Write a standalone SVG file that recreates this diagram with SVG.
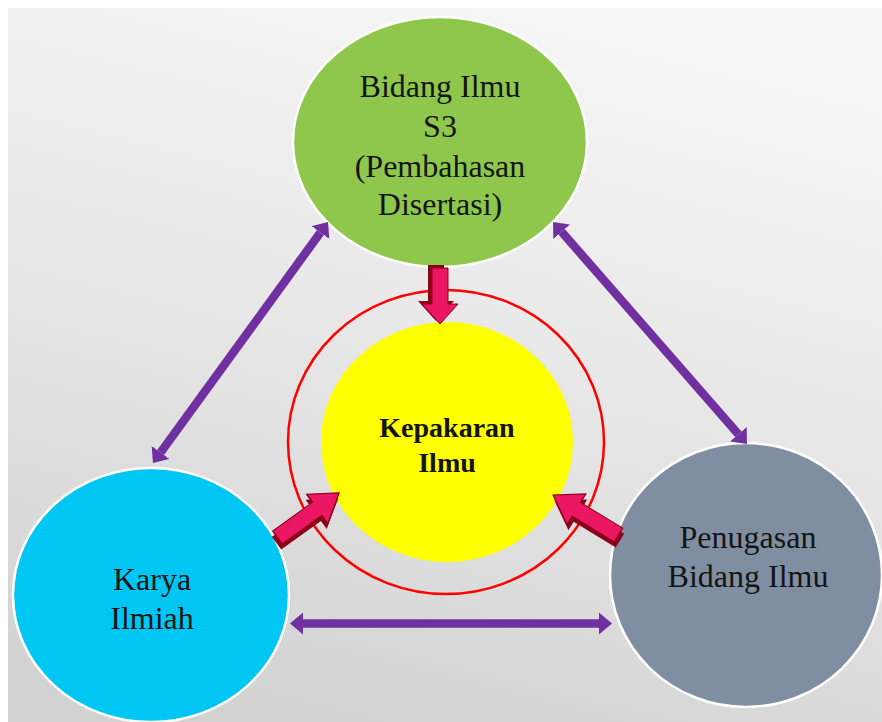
<svg xmlns="http://www.w3.org/2000/svg" width="882" height="722" viewBox="0 0 882 722">
<defs>
<linearGradient id="bg" x1="0.6" y1="0" x2="0.3" y2="1">
<stop offset="0" stop-color="#f6f6f6"/>
<stop offset="0.5" stop-color="#e6e6e6"/>
<stop offset="1" stop-color="#d2d2d2"/>
</linearGradient>
<marker id="ph" markerUnits="userSpaceOnUse" markerWidth="14" markerHeight="22" viewBox="0 0 14 22" refX="0" refY="11" orient="auto-start-reverse">
<path d="M0,0 L13,11 L0,22 Z" fill="#7030a0"/>
</marker>
<path id="blk" d="M0,-8 L36,-8 L36,-18 L56,0 L36,18 L36,8 L0,8 Z"/>
</defs>
<style>
.lbl{font-family:"Liberation Serif","Times New Roman",serif;font-size:32px;fill:#141414;text-anchor:middle}
.bold{font-weight:bold;font-size:28px}
.node{stroke:#ffffff;stroke-width:2.5}
.pl{stroke:#7030a0;stroke-width:8.5;fill:none;marker-start:url(#ph);marker-end:url(#ph)}
.dk{fill:#8c0018}
.pk{fill:#ec1763;stroke:#8c0018;stroke-width:1}
</style>
<rect x="0" y="0" width="882" height="722" fill="#ffffff"/>
<rect x="8" y="8" width="874" height="714" fill="url(#bg)"/>

<g id="ring">
<ellipse cx="446" cy="442" rx="158" ry="152" fill="none" stroke="#ff0000" stroke-width="2.5"/>
</g>

<g id="node-bidang-s3">
<ellipse class="node" cx="440" cy="142" rx="147" ry="125" fill="#8fc74c"/>
<text class="lbl" x="440" y="97">Bidang Ilmu</text>
<text class="lbl" x="440" y="137">S3</text>
<text class="lbl" x="440" y="177">(Pembahasan</text>
<text class="lbl" x="440" y="215">Disertasi)</text>
</g>

<g id="node-kepakaran">
<ellipse cx="447" cy="442" rx="126" ry="120" fill="#ffff00"/>
<text class="lbl bold" x="447" y="437">Kepakaran</text>
<text class="lbl bold" x="447" y="472">Ilmu</text>
</g>

<g id="node-karya">
<ellipse class="node" cx="151" cy="595" rx="138" ry="127" fill="#00c6f3"/>
<text class="lbl" x="152" y="590">Karya</text>
<text class="lbl" x="152" y="629">Ilmiah</text>
</g>

<g id="node-penugasan">
<ellipse class="node" cx="746" cy="575" rx="136" ry="132" fill="#7f8fa1"/>
<text class="lbl" x="748" y="548">Penugasan</text>
<text class="lbl" x="748" y="587">Bidang Ilmu</text>
</g>

<g id="connectors">
<line class="pl" x1="320.4" y1="232.5" x2="160.6" y2="452.5"/>
<line class="pl" x1="561.6" y1="231.8" x2="738.4" y2="434.2"/>
<line class="pl" x1="303" y1="623.5" x2="599" y2="623.5"/>

<g transform="translate(440,268) rotate(90)">
<use href="#blk" class="dk" transform="translate(-3,4)"/>
<use href="#blk" class="pk"/>
</g>
<g transform="translate(277.5,537.5) rotate(-35.9) scale(1.36,1)">
<use href="#blk" class="dk" transform="translate(-3,4)"/>
<use href="#blk" class="pk"/>
</g>
<g transform="translate(618.5,535) rotate(-148.6) scale(1.37,1)">
<use href="#blk" class="dk" transform="translate(-3,-4)"/>
<use href="#blk" class="pk"/>
</g>
</g>
</svg>
